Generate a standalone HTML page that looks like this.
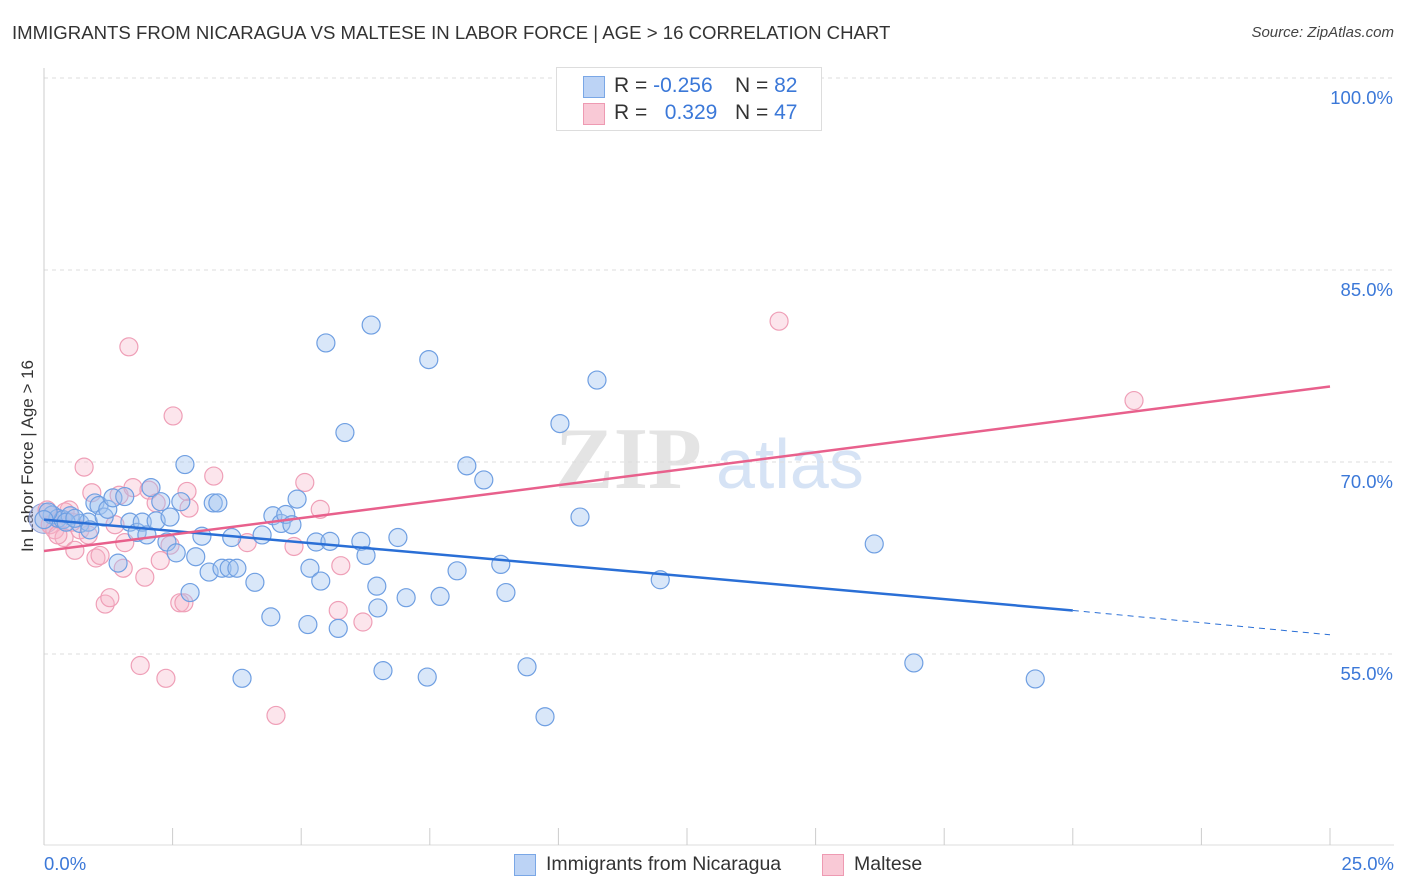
<!DOCTYPE html>
<html><head><meta charset="utf-8"><style>
body{margin:0;background:#fff;font-family:"Liberation Sans",sans-serif;}
#wrap{position:relative;width:1406px;height:892px;overflow:hidden;}
.t{position:absolute;white-space:nowrap;}
</style></head><body>
<div id="wrap">
<div class="t" style="left:12px;top:22px;font-size:18.6px;color:#333;">IMMIGRANTS FROM NICARAGUA VS MALTESE IN LABOR FORCE | AGE &gt; 16 CORRELATION CHART</div>
<div class="t" style="right:12px;top:24px;font-size:15px;font-style:italic;color:#444;">Source: ZipAtlas.com</div>
<div class="t" style="left:28px;top:456px;font-size:17px;color:#333;transform:translate(-50%,-50%) rotate(-90deg);">In Labor Force | Age &gt; 16</div>
<svg id="svg" width="1406" height="892" style="position:absolute;left:0;top:0"></svg>
<div style="position:absolute;left:556px;top:67px;width:264px;height:62px;border:1px solid #ddd;background:#fff;font-size:21px;">
 <div style="position:absolute;left:26px;top:8px;width:20px;height:20px;background:#bcd3f5;border:1px solid #7aa7e6;"></div>
 <div class="t" style="left:57px;top:6px;color:#333;">R = <span style="color:#3b78d8">-0.256</span></div>
 <div class="t" style="left:178px;top:6px;color:#333;">N = <span style="color:#3b78d8">82</span></div>
 <div style="position:absolute;left:26px;top:35px;width:20px;height:20px;background:#f9c9d6;border:1px solid #ee9ab2;"></div>
 <div class="t" style="left:57px;top:33px;color:#333;">R = &nbsp;&nbsp;<span style="color:#3b78d8">0.329</span></div>
 <div class="t" style="left:178px;top:33px;color:#333;">N = <span style="color:#3b78d8">47</span></div>
</div>
<div style="position:absolute;left:514px;top:853px;font-size:19.5px;color:#333;">
 <div style="position:absolute;left:0;top:1px;width:20px;height:20px;background:#bcd3f5;border:1px solid #7aa7e6;"></div>
 <div class="t" style="left:32px;top:0;">Immigrants from Nicaragua</div></div>
<div style="position:absolute;left:822px;top:853px;font-size:19.5px;color:#333;">
 <div style="position:absolute;left:0;top:1px;width:20px;height:20px;background:#f9c9d6;border:1px solid #ee9ab2;"></div>
 <div class="t" style="left:32px;top:0;">Maltese</div></div>
</div>
<script>
const xTickLabels=["0.0%","25.0%"];
const yTicks=[100,85,70,55];
const blueX=[0.16,0.27,0.37,0.51,0.70,0.86,0.99,1.07,1.17,1.24,1.34,1.44,1.57,1.67,1.81,1.91,2.00,2.08,2.18,2.27,2.39,2.45,2.57,2.66,2.74,2.84,2.95,3.07,3.21,3.29,3.38,3.46,3.60,3.65,3.75,3.85,4.10,4.24,4.41,4.45,4.61,4.70,4.82,4.92,5.13,5.17,5.29,5.38,5.48,5.56,5.72,5.85,6.16,6.26,6.36,6.47,6.49,6.59,6.88,7.04,7.45,7.48,7.70,8.03,8.22,8.55,8.88,8.98,9.39,9.74,10.03,10.42,10.75,11.98,16.14,16.91,19.27,0.08,0.43,0.60,0.0,0.89];
const blueY=[65.86,65.6,65.5,65.8,65.2,65.3,66.8,66.6,65.7,66.3,67.2,62.1,67.3,65.3,64.5,65.3,64.3,68.0,65.4,66.9,63.75,65.7,62.9,66.9,69.8,59.8,62.6,64.2,61.4,66.8,66.8,61.7,61.7,64.1,61.7,53.1,60.6,64.3,57.9,65.8,65.2,65.9,65.1,67.1,57.3,61.7,63.75,60.7,79.3,63.8,57.0,72.3,63.8,62.7,80.7,60.3,58.6,53.7,64.1,59.4,53.2,78.0,59.5,61.5,69.7,68.6,62.0,59.8,54.0,50.1,73.0,65.7,76.4,60.8,63.6,54.3,53.05,66.1,65.3,65.6,65.5,64.7];
const pinkX=[0.06,0.12,0.21,0.31,0.39,0.49,0.60,0.70,0.78,0.86,0.93,1.01,1.09,1.19,1.28,1.38,1.46,1.54,1.57,1.65,1.73,1.87,1.96,2.04,2.18,2.26,2.37,2.45,2.51,2.64,2.72,2.78,2.82,3.30,3.95,4.51,4.86,5.07,5.37,5.72,5.77,6.20,14.29,21.19,0.41,0.54,0.27];
const pinkY=[66.25,65.1,64.7,65.5,64.1,66.25,63.1,64.7,69.6,64.3,67.6,62.5,62.7,58.9,59.4,65.1,67.4,61.7,63.7,79.0,68.0,54.1,61.0,67.8,66.8,62.3,53.1,63.5,73.6,59.0,59.0,67.7,66.4,68.9,63.7,50.2,63.4,68.4,66.3,58.4,61.9,57.5,81.0,74.8,66.1,65.3,64.3];
const blueTrend=[65.5,58.4,56.5]; // at x=0, 20, 25
const pinkTrend=[63.05,75.9];     // at x=0, 25
const NS="http://www.w3.org/2000/svg";
const svg=document.getElementById('svg');
const X=v=>44+v*51.44, Y=v=>78+(100-v)*12.8;
function mk(tag,attrs,parent){const e=document.createElementNS(NS,tag);for(const k in attrs)e.setAttribute(k,attrs[k]);(parent||svg).appendChild(e);return e;}
let wm=mk('text',{x:555,y:488,'font-size':88,'font-family':'Liberation Serif,serif',fill:'#e4e4e4','font-weight':'bold'});wm.textContent='ZIP';


let wm2=mk('text',{x:716,y:488,'font-size':70,'font-family':'Liberation Sans,sans-serif',fill:'#d6e3f5'});wm2.textContent='atlas';


yTicks.forEach(v=>{
 const g=mk('line',{x1:44,x2:1394,y1:Y(v),y2:Y(v),stroke:'#ddd','stroke-dasharray':'4,4'});
 
 
 const t=mk('text',{x:1393,y:Y(v)+26,'text-anchor':'end','font-size':18.5,fill:'#3b78d8','font-family':'Liberation Sans,sans-serif'});t.textContent=v.toFixed(1)+'%';
 
 
});
mk('line',{x1:44,x2:44,y1:68,y2:845,stroke:'#ccc'});
mk('line',{x1:44,x2:1394,y1:845,y2:845,stroke:'#ddd'});
for(let i=0;i<=10;i++){const l=mk('line',{x1:X(i*2.5),x2:X(i*2.5),y1:828,y2:845,stroke:'#ccc'});
 
 }
[[0,'start',44],[1,'end',1394]].forEach(([i,a,x])=>{const t=mk('text',{x:x,y:870,'text-anchor':a,'font-size':18.5,fill:'#3b78d8','font-family':'Liberation Sans,sans-serif'});t.textContent=xTickLabels[i];
 
 });
function dots(xs,ys,fill,stroke,name){xs.forEach((x,i)=>{const c=mk('circle',{cx:X(x),cy:Y(ys[i]),r:9,fill:fill,stroke:stroke,'stroke-width':1.2});
 
 });}
const big1=mk('circle',{cx:X(0),cy:Y(65.6),r:15,fill:'rgba(160,170,220,0.45)',stroke:'#8c9fd8'});


dots(pinkX,pinkY,'rgba(247,180,200,0.35)','#ef9fb7','maltese-point');
dots(blueX,blueY,'rgba(160,195,240,0.4)','#6f9fe2','nicaragua-point');
const bl=mk('line',{x1:X(0),y1:Y(blueTrend[0]),x2:X(20),y2:Y(blueTrend[1]),stroke:'#2a6fd6','stroke-width':2.5});


const bd=mk('line',{x1:X(20),y1:Y(blueTrend[1]),x2:X(25),y2:Y(blueTrend[2]),stroke:'#2a6fd6','stroke-width':1,'stroke-dasharray':'6,5'});


const pl=mk('line',{x1:X(0),y1:Y(pinkTrend[0]),x2:X(25),y2:Y(pinkTrend[1]),stroke:'#e8608c','stroke-width':2.5});


</script>
</body></html>
